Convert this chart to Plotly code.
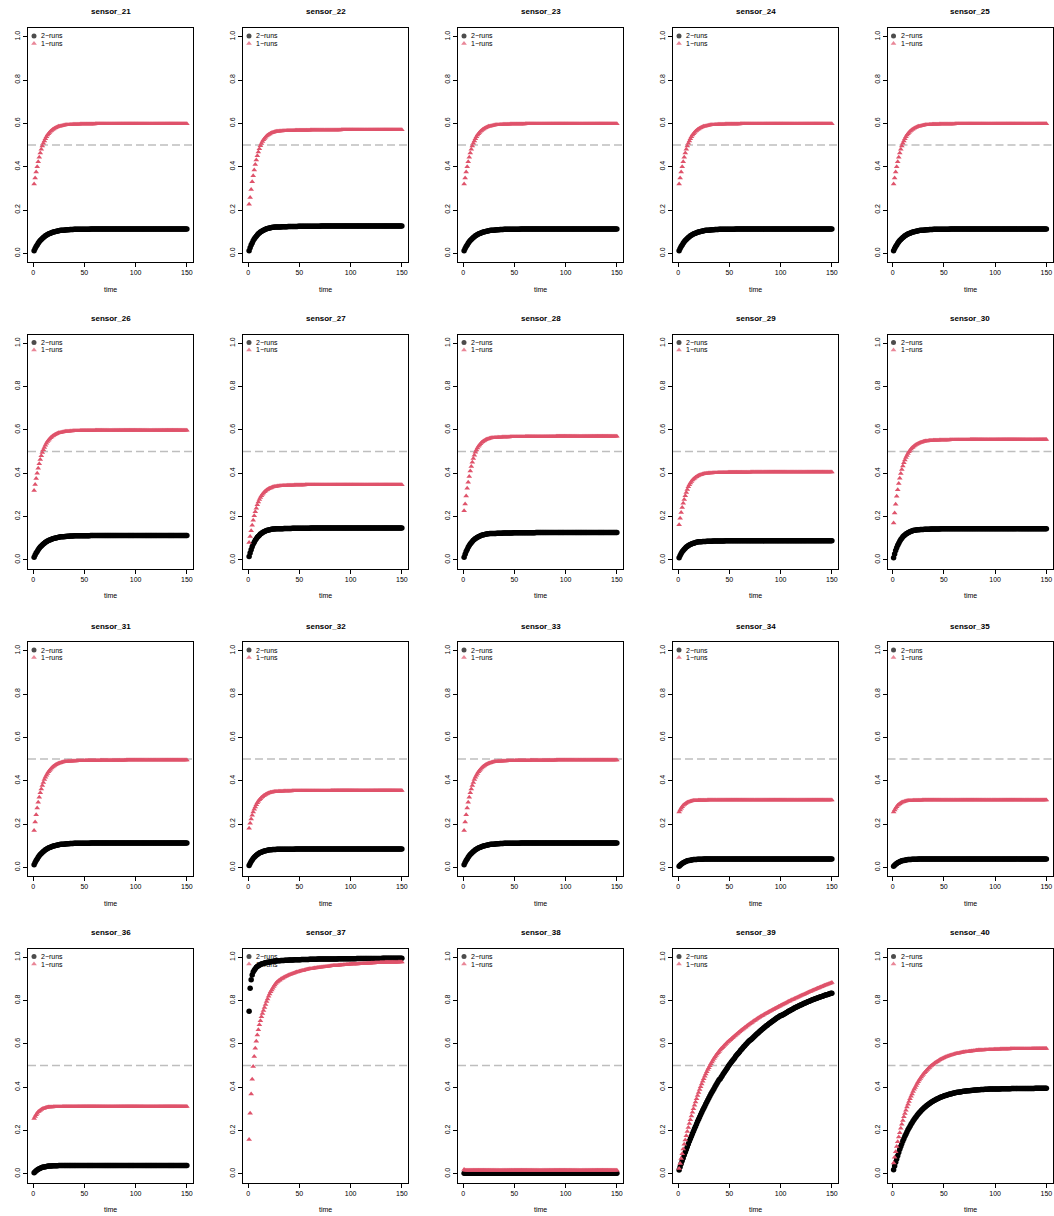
import plotly.graph_objects as go

# ---------------------------------------------------------------------------
# Readings: one value per time step (t = 1 .. 150) for each series.
# Plateaus are written as repeated readings.
# ---------------------------------------------------------------------------

SENSORS = [f"sensor_{n}" for n in range(21, 41)]
X_TICKS = [0, 50, 100, 150]
Y_TICKS = [0.0, 0.2, 0.4, 0.6, 0.8, 1.0]
Y_TICK_TEXT = ["0.0", "0.2", "0.4", "0.6", "0.8", "1.0"]
THRESHOLD = 0.5

# sensors 21, 23-26
ONE_A = [0.320, 0.348, 0.375, 0.400, 0.423, 0.444, 0.463, 0.480, 0.495, 0.508,
         0.519, 0.529, 0.538, 0.546, 0.552, 0.558, 0.563, 0.567, 0.571, 0.574,
         0.577, 0.580, 0.582, 0.584, 0.586, 0.587, 0.588, 0.589, 0.590, 0.591,
         0.592, 0.593, 0.593, 0.594, 0.594, 0.595, 0.595, 0.595, 0.596, 0.596] \
        + [0.596] * 5 + [0.597] * 15 + [0.598] * 90
TWO_A = [0.012, 0.022, 0.031, 0.039, 0.046, 0.053, 0.059, 0.064, 0.069, 0.073,
         0.077, 0.081, 0.084, 0.087, 0.089, 0.091, 0.093, 0.095, 0.097, 0.099,
         0.100, 0.101, 0.102, 0.103, 0.104, 0.105, 0.106, 0.106, 0.107, 0.107,
         0.108, 0.108, 0.109, 0.109, 0.109, 0.110, 0.110, 0.110, 0.110, 0.111] \
        + [0.111] * 15 + [0.112] * 95

# sensors 22, 28
ONE_B = [0.226, 0.258, 0.295, 0.330, 0.358, 0.385, 0.410, 0.431, 0.450, 0.468,
         0.483, 0.496, 0.507, 0.516, 0.524, 0.530, 0.536, 0.541, 0.545, 0.548,
         0.551, 0.554, 0.556, 0.558, 0.559, 0.561, 0.562, 0.563, 0.563, 0.564] \
        + [0.565] * 3 + [0.566] * 4 + [0.567] * 8 + [0.568] * 15 + [0.569] * 30 + [0.570] * 60
TWO_B = [0.012, 0.026, 0.038, 0.048, 0.058, 0.066, 0.073, 0.079, 0.085, 0.090,
         0.094, 0.098, 0.101, 0.104, 0.107, 0.109, 0.111, 0.113, 0.115, 0.116,
         0.117, 0.118, 0.119, 0.120, 0.120] \
        + [0.121] * 3 + [0.122] * 4 + [0.123] * 6 + [0.124] * 10 + [0.125] * 22 + [0.126] * 80

# sensor 27
ONE_C = [0.080, 0.108, 0.134, 0.160, 0.183, 0.203, 0.222, 0.238, 0.254, 0.267,
         0.278, 0.288, 0.296, 0.303, 0.309, 0.314, 0.318, 0.322, 0.325, 0.328,
         0.330, 0.332, 0.334, 0.336, 0.337, 0.338, 0.339, 0.340, 0.341, 0.341] \
        + [0.342] * 3 + [0.343] * 4 + [0.344] * 7 + [0.345] * 11 + [0.346] * 25 + [0.347] * 70
TWO_C = [0.015, 0.032, 0.047, 0.060, 0.072, 0.081, 0.090, 0.097, 0.104, 0.109,
         0.114, 0.119, 0.122, 0.126, 0.128, 0.131, 0.133, 0.135, 0.136, 0.138,
         0.139, 0.140, 0.141] \
        + [0.142] * 3 + [0.143] * 3 + [0.144] * 5 + [0.145] * 8 + [0.146] * 18 + [0.147] * 90

# sensor 29
ONE_D = [0.162, 0.192, 0.219, 0.241, 0.261, 0.279, 0.296, 0.311, 0.325, 0.337,
         0.347, 0.355, 0.362, 0.368, 0.373, 0.377, 0.381, 0.384, 0.387, 0.389,
         0.391, 0.393, 0.394, 0.396, 0.397, 0.398, 0.399] \
        + [0.400] * 2 + [0.401] * 4 + [0.402] * 5 + [0.403] * 10 + [0.404] * 22 + [0.405] * 80
TWO_D = [0.010, 0.020, 0.029, 0.037, 0.043, 0.049, 0.054, 0.059, 0.062, 0.066,
         0.069, 0.071, 0.073, 0.075, 0.077, 0.078, 0.080, 0.081, 0.082, 0.083] \
        + [0.084] * 3 + [0.085] * 4 + [0.086] * 6 + [0.087] * 12 + [0.088] * 105

# sensor 30
ONE_E = [0.170, 0.216, 0.257, 0.293, 0.324, 0.352, 0.376, 0.398, 0.417, 0.433,
         0.448, 0.461, 0.472, 0.482, 0.491, 0.499, 0.505, 0.511, 0.517, 0.521,
         0.525, 0.529, 0.532, 0.535, 0.537, 0.539, 0.541, 0.543, 0.544, 0.546,
         0.547, 0.548, 0.549, 0.549, 0.550] \
        + [0.551] * 4 + [0.552] * 6 + [0.553] * 10 + [0.554] * 20 + [0.555] * 75
TWO_E = [0.010, 0.027, 0.043, 0.056, 0.067, 0.077, 0.086, 0.094, 0.100, 0.106,
         0.111, 0.115, 0.119, 0.122, 0.125, 0.127, 0.130, 0.132, 0.133, 0.135,
         0.136, 0.137, 0.138] \
        + [0.139] * 3 + [0.140] * 4 + [0.141] * 6 + [0.142] * 10 + [0.143] * 24 + [0.144] * 80

# sensors 31, 33
ONE_F = [0.170, 0.209, 0.243, 0.274, 0.300, 0.324, 0.344, 0.362, 0.378, 0.392,
         0.405, 0.416, 0.425, 0.433, 0.441, 0.447, 0.453, 0.458, 0.463, 0.466,
         0.470, 0.473, 0.476, 0.478, 0.480, 0.482, 0.483, 0.485, 0.486, 0.487,
         0.488, 0.489, 0.489] \
        + [0.490] * 4 + [0.491] * 5 + [0.492] * 8 + [0.493] * 15 + [0.494] * 25 + [0.495] * 60

# sensor 32
ONE_G = [0.180, 0.203, 0.223, 0.240, 0.255, 0.268, 0.279, 0.289, 0.298, 0.305,
         0.312, 0.317, 0.322, 0.326, 0.330, 0.333, 0.336, 0.339, 0.341, 0.343,
         0.344, 0.346, 0.347, 0.348, 0.349] \
        + [0.350] * 4 + [0.351] * 5 + [0.352] * 8 + [0.353] * 13 + [0.354] * 25 + [0.355] * 70
TWO_G = [0.008, 0.018, 0.027, 0.034, 0.041, 0.046, 0.051, 0.056, 0.059, 0.063,
         0.066, 0.068, 0.070, 0.072, 0.074, 0.075, 0.077, 0.078, 0.079, 0.080] \
        + [0.081] * 3 + [0.082] * 4 + [0.083] * 6 + [0.084] * 12 + [0.085] * 105

# sensors 34-36
ONE_H = [0.255, 0.265, 0.273, 0.280, 0.286, 0.290, 0.294, 0.297, 0.300, 0.302,
         0.303, 0.305, 0.306, 0.307, 0.308] \
        + [0.309] * 4 + [0.310] * 9 + [0.311] * 122
TWO_H = [0.005, 0.010, 0.014, 0.018, 0.021, 0.024, 0.026, 0.028, 0.030, 0.031,
         0.032, 0.033, 0.034, 0.035] \
        + [0.036] * 4 + [0.037] * 6 + [0.038] * 11 + [0.039] * 115

# sensor 37
ONE_I = [0.158, 0.280, 0.369, 0.437, 0.495, 0.541, 0.580, 0.612, 0.641, 0.665,
         0.688, 0.707, 0.725, 0.740, 0.754, 0.768, 0.782, 0.795, 0.807, 0.820,
         0.830, 0.840, 0.849, 0.857, 0.865, 0.872, 0.878, 0.884, 0.888,
         0.892, 0.895, 0.899, 0.901, 0.904, 0.907, 0.910, 0.912, 0.914, 0.916,
         0.919, 0.920, 0.922, 0.924, 0.926, 0.927, 0.929, 0.931, 0.932, 0.933,
         0.935, 0.936, 0.937, 0.938, 0.939, 0.941, 0.942, 0.943, 0.944, 0.945,
         0.946, 0.946, 0.947, 0.948, 0.949, 0.950, 0.950, 0.951, 0.952, 0.952,
         0.953, 0.954, 0.955, 0.955, 0.956, 0.956, 0.957, 0.957, 0.958, 0.958,
         0.959, 0.960, 0.960, 0.961, 0.961, 0.961, 0.962, 0.962, 0.963, 0.963,
         0.964, 0.964, 0.964, 0.965, 0.965, 0.965, 0.966, 0.966, 0.966] \
        + [0.967] * 2 + [0.968] * 4 + [0.969] * 3 + [0.970] * 4 + [0.971] * 4 + [0.972] * 4 \
        + [0.973] * 4 + [0.974] * 5 + [0.975] * 5 + [0.976] * 6 + [0.977] * 7 + [0.978] * 4
TWO_I = [0.750, 0.856, 0.896, 0.918, 0.931, 0.940, 0.947, 0.953, 0.957, 0.960,
         0.963, 0.966, 0.968, 0.970, 0.971, 0.973, 0.974, 0.975, 0.976, 0.977,
         0.978, 0.979, 0.980, 0.980, 0.981, 0.982, 0.982, 0.983, 0.983, 0.984,
         0.984] \
        + [0.985] * 4 + [0.986] * 4 + [0.987] * 5 + [0.988] * 7 + [0.989] * 8 + [0.990] * 8 \
        + [0.991] * 7 + [0.992] * 13 + [0.993] * 18 + [0.994] * 25 + [0.995] * 20

# sensor 38
ONE_J = [0.020] + [0.017] * 149
TWO_J = [0.003] * 150

# sensor 39
ONE_K = [0.025, 0.048, 0.071, 0.093, 0.115, 0.136, 0.156, 0.176, 0.195, 0.214,
         0.232, 0.250, 0.267, 0.284, 0.300, 0.316, 0.331, 0.346, 0.361, 0.375,
         0.389, 0.402, 0.415, 0.427, 0.439, 0.450, 0.461, 0.471, 0.481, 0.490,
         0.499, 0.508, 0.516, 0.524, 0.532, 0.539, 0.546, 0.553, 0.559, 0.565,
         0.571, 0.577, 0.582, 0.587, 0.592, 0.597, 0.602, 0.607, 0.611, 0.615,
         0.619, 0.624, 0.628, 0.632, 0.636, 0.640, 0.644, 0.648, 0.652, 0.656,
         0.660, 0.664, 0.667, 0.671, 0.675, 0.678, 0.682, 0.686, 0.689, 0.693,
         0.696, 0.699, 0.703, 0.706, 0.709, 0.712, 0.716, 0.719, 0.722, 0.725,
         0.728, 0.730, 0.733, 0.736, 0.739, 0.741, 0.744, 0.747, 0.749, 0.752,
         0.754, 0.757, 0.759, 0.762, 0.764, 0.767, 0.769, 0.772, 0.774, 0.777,
         0.779, 0.782, 0.784, 0.786, 0.789, 0.791, 0.794, 0.796, 0.798, 0.801,
         0.803, 0.805, 0.807, 0.810, 0.812, 0.814, 0.816, 0.818, 0.821, 0.823,
         0.825, 0.827, 0.829, 0.831, 0.833, 0.836, 0.838, 0.840, 0.842, 0.844,
         0.846, 0.848, 0.850, 0.852, 0.854, 0.856, 0.858, 0.860, 0.862, 0.864,
         0.866, 0.868, 0.870, 0.872, 0.874, 0.875, 0.877, 0.879, 0.881, 0.883]
TWO_K = [0.018, 0.032, 0.046, 0.060, 0.073, 0.087, 0.100, 0.112, 0.125, 0.138,
         0.150, 0.162, 0.174, 0.185, 0.197, 0.208, 0.219, 0.230, 0.241, 0.252,
         0.262, 0.273, 0.283, 0.293, 0.303, 0.312, 0.322, 0.331, 0.341, 0.350,
         0.359, 0.368, 0.376, 0.385, 0.393, 0.402, 0.410, 0.418, 0.426, 0.434,
         0.438, 0.446, 0.453, 0.461, 0.468, 0.475, 0.482, 0.489, 0.496, 0.503,
         0.509, 0.516, 0.522, 0.528, 0.534, 0.541, 0.547, 0.553, 0.558, 0.564,
         0.570, 0.575, 0.581, 0.586, 0.591, 0.597, 0.602, 0.607, 0.612, 0.617,
         0.619, 0.623, 0.628, 0.633, 0.637, 0.642, 0.646, 0.650, 0.655, 0.659,
         0.663, 0.667, 0.671, 0.675, 0.679, 0.683, 0.686, 0.690, 0.694, 0.697,
         0.701, 0.704, 0.708, 0.711, 0.715, 0.718, 0.721, 0.724, 0.727, 0.731,
         0.731, 0.734, 0.737, 0.739, 0.742, 0.745, 0.748, 0.751, 0.753, 0.756,
         0.758, 0.761, 0.764, 0.766, 0.769, 0.771, 0.773, 0.776, 0.778, 0.780,
         0.782, 0.785, 0.787, 0.789, 0.791, 0.793, 0.795, 0.797, 0.799, 0.801,
         0.803, 0.805, 0.807, 0.808, 0.810, 0.812, 0.814, 0.815, 0.817, 0.819,
         0.820, 0.822, 0.824, 0.825, 0.827, 0.828, 0.830, 0.831, 0.833, 0.834]

# sensor 40
ONE_L = [0.050, 0.077, 0.102, 0.126, 0.148, 0.170, 0.190, 0.210, 0.229, 0.246,
         0.263, 0.279, 0.294, 0.308, 0.321, 0.334, 0.347, 0.358, 0.369, 0.380,
         0.390, 0.399, 0.408, 0.417, 0.425, 0.433, 0.440, 0.447, 0.454, 0.460,
         0.466, 0.471, 0.477, 0.482, 0.487, 0.491, 0.496, 0.500, 0.504, 0.507,
         0.511, 0.514, 0.517, 0.520, 0.523, 0.526, 0.529, 0.531, 0.534, 0.536,
         0.538, 0.540, 0.542, 0.544, 0.545, 0.547, 0.549, 0.550, 0.551, 0.553,
         0.554, 0.555, 0.556, 0.557, 0.558, 0.559, 0.560, 0.561, 0.562, 0.562,
         0.563, 0.564, 0.564, 0.565, 0.566, 0.566, 0.567, 0.567, 0.568, 0.568,
         0.569] \
        + [0.570] * 2 + [0.571] * 3 + [0.572] * 3 + [0.573] * 4 + [0.574] * 5 \
        + [0.575] * 6 + [0.576] * 10 + [0.577] * 21 + [0.578] * 15
TWO_L = [0.019, 0.036, 0.053, 0.069, 0.084, 0.099, 0.113, 0.126, 0.139, 0.151,
         0.162, 0.173, 0.183, 0.193, 0.203, 0.212, 0.220, 0.229, 0.236, 0.244,
         0.251, 0.258, 0.264, 0.270, 0.276, 0.282, 0.287, 0.292, 0.297, 0.301,
         0.306, 0.310, 0.314, 0.318, 0.321, 0.325, 0.328, 0.331, 0.334, 0.337,
         0.340, 0.342, 0.345, 0.347, 0.349, 0.352, 0.354, 0.356, 0.357, 0.359,
         0.361, 0.362, 0.364, 0.365, 0.367, 0.368, 0.369, 0.371, 0.372, 0.373,
         0.374, 0.375, 0.376, 0.377, 0.378, 0.378, 0.379, 0.380, 0.381, 0.381,
         0.382, 0.382, 0.383, 0.384, 0.384, 0.385, 0.385, 0.386, 0.386, 0.387,
         0.387, 0.387, 0.388, 0.388, 0.388, 0.389, 0.389, 0.389, 0.389, 0.390] \
        + [0.390] * 3 + [0.391] * 5 + [0.392] * 7 + [0.393] * 10 + [0.394] * 23 + [0.395] * 12

ONE_RUNS = {
    "sensor_21": ONE_A, "sensor_22": ONE_B, "sensor_23": ONE_A, "sensor_24": ONE_A,
    "sensor_25": ONE_A, "sensor_26": ONE_A, "sensor_27": ONE_C, "sensor_28": ONE_B,
    "sensor_29": ONE_D, "sensor_30": ONE_E, "sensor_31": ONE_F, "sensor_32": ONE_G,
    "sensor_33": ONE_F, "sensor_34": ONE_H, "sensor_35": ONE_H, "sensor_36": ONE_H,
    "sensor_37": ONE_I, "sensor_38": ONE_J, "sensor_39": ONE_K, "sensor_40": ONE_L,
}
TWO_RUNS = {
    "sensor_21": TWO_A, "sensor_22": TWO_B, "sensor_23": TWO_A, "sensor_24": TWO_A,
    "sensor_25": TWO_A, "sensor_26": TWO_A, "sensor_27": TWO_C, "sensor_28": TWO_B,
    "sensor_29": TWO_D, "sensor_30": TWO_E, "sensor_31": TWO_A, "sensor_32": TWO_G,
    "sensor_33": TWO_A, "sensor_34": TWO_H, "sensor_35": TWO_H, "sensor_36": TWO_H,
    "sensor_37": TWO_I, "sensor_38": TWO_J, "sensor_39": TWO_K, "sensor_40": TWO_L,
}

# ---------------------------------------------------------------------------
# Page geometry (pixels)
# ---------------------------------------------------------------------------
W, H = 1054, 1216
COL_LEFT = [28, 243, 458, 673, 887.5]
ROW_TOP = [28, 334.5, 642, 948.5]
BOX_W, BOX_H = 165, 234
X_RANGE = [-4.96, 155.96]
Y_RANGE = [-0.04, 1.04]

PINK = "#DF536B"
FONT = "Liberation Sans, Arial, sans-serif"

fig = go.Figure()
layout = dict(
    width=W, height=H,
    margin=dict(l=0, r=0, t=0, b=0),
    paper_bgcolor="white", plot_bgcolor="white",
    showlegend=False,
    font=dict(family=FONT, size=7, color="black"),
)
annotations = []
shapes = []


def data_x(px):
    return X_RANGE[0] + px / BOX_W * (X_RANGE[1] - X_RANGE[0])


def data_y(px_from_top):
    return Y_RANGE[1] - px_from_top / BOX_H * (Y_RANGE[1] - Y_RANGE[0])


for i, name in enumerate(SENSORS):
    r, c = divmod(i, 5)
    n = i + 1
    xa, ya = ("x", "y") if n == 1 else (f"x{n}", f"y{n}")
    left, top = COL_LEFT[c], ROW_TOP[r]

    layout[f"xaxis{n}"] = dict(
        domain=[left / W, (left + BOX_W) / W], range=X_RANGE, anchor=ya,
        tickmode="array", tickvals=X_TICKS, ticks="outside", ticklen=4,
        tickwidth=1, tickcolor="black", tickfont=dict(size=7),
        showline=True, linecolor="black", linewidth=1, mirror=True,
        showgrid=False, zeroline=False, fixedrange=True,
    )
    layout[f"yaxis{n}"] = dict(
        domain=[1 - (top + BOX_H) / H, 1 - top / H], range=Y_RANGE, anchor=xa,
        tickmode="array", tickvals=Y_TICKS, ticktext=Y_TICK_TEXT, tickangle=-90,
        ticks="outside", ticklen=4, tickwidth=1, tickcolor="black",
        tickfont=dict(size=7),
        showline=True, linecolor="black", linewidth=1, mirror=True,
        showgrid=False, zeroline=False, fixedrange=True,
    )

    two = TWO_RUNS[name]
    one = ONE_RUNS[name]
    fig.add_trace(go.Scatter(
        x=list(range(1, len(two) + 1)), y=two, xaxis=xa, yaxis=ya,
        mode="markers", hoverinfo="skip",
        marker=dict(symbol="circle", size=5.5, color="black", line=dict(width=0)),
    ))
    fig.add_trace(go.Scatter(
        x=list(range(1, len(one) + 1)), y=one, xaxis=xa, yaxis=ya,
        mode="markers", hoverinfo="skip",
        marker=dict(symbol="triangle-up", size=5, color=PINK, line=dict(width=0)),
    ))

    # threshold line
    shapes.append(dict(
        type="line", xref=f"{xa} domain", yref=ya, x0=0, x1=1,
        y0=THRESHOLD, y1=THRESHOLD, layer="below",
        line=dict(color="#BEBEBE", width=1.6, dash="8px,4px"),
    ))

    # legend keys in the top-left corner
    fig.add_trace(go.Scatter(
        x=[data_x(6), data_x(6)], y=[data_y(8), data_y(15.5)], xaxis=xa, yaxis=ya,
        mode="markers", hoverinfo="skip", cliponaxis=False,
        marker=dict(symbol=["circle", "triangle-up"], size=[5, 5],
                    color=["black", PINK], line=dict(width=0)),
    ))
    for label, off in (("2\u2212runs", 8), ("1\u2212runs", 15.5)):
        annotations.append(dict(
            text=label, xref="paper", yref="paper",
            x=(left + 11) / W, y=1 - (top + off) / H,
            xanchor="left", yanchor="middle", showarrow=False,
            font=dict(size=7, color="#000000"),
        ))

    # panel title and x-axis label
    annotations.append(dict(
        text=f"<b>{name}</b>", xref="paper", yref="paper",
        x=(left + BOX_W / 2) / W, y=1 - (top - 16) / H,
        xanchor="center", yanchor="middle", showarrow=False,
        font=dict(size=8, color="black"),
    ))
    annotations.append(dict(
        text="time", xref="paper", yref="paper",
        x=(left + BOX_W / 2) / W, y=1 - (top + BOX_H + 27) / H,
        xanchor="center", yanchor="middle", showarrow=False,
        font=dict(size=7, color="black"),
    ))

layout["annotations"] = annotations
layout["shapes"] = shapes
fig.update_layout(**layout)
fig.write_html("out.html")
